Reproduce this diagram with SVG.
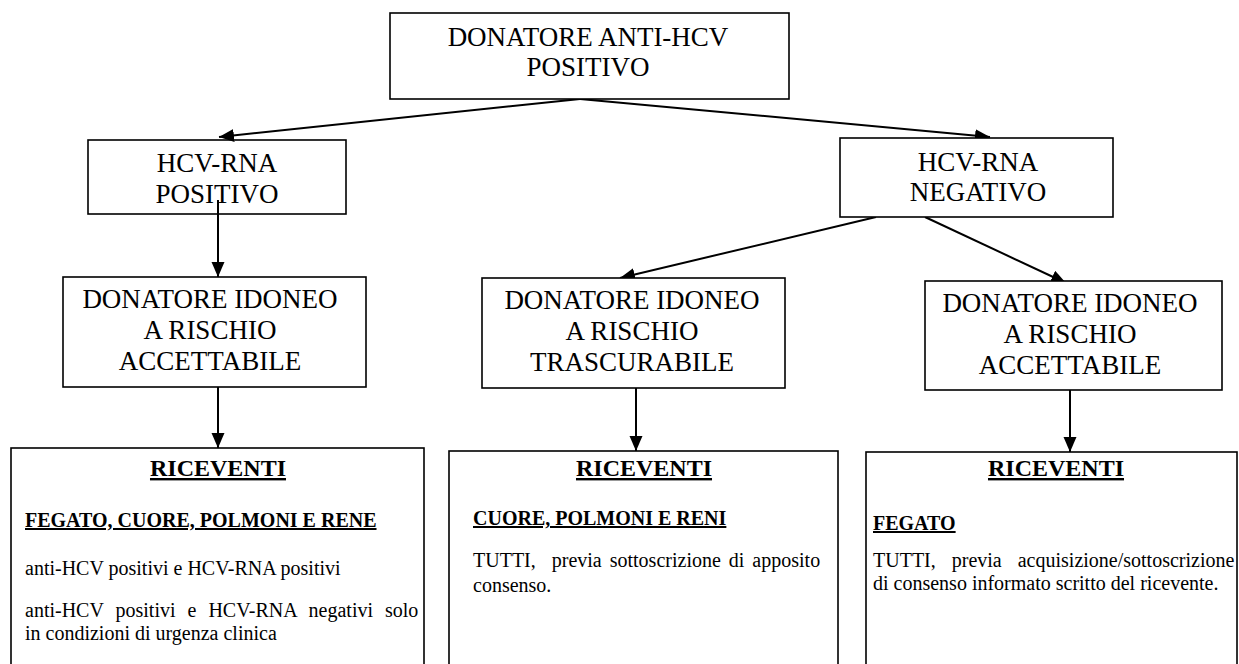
<svg xmlns="http://www.w3.org/2000/svg" width="1239" height="664" viewBox="0 0 1239 664">
<style>
.bg{fill:#ffffff}
.box{fill:#ffffff;stroke:#000;stroke-width:1.6}
.lbl{font-family:"Liberation Serif","Times New Roman",serif;font-size:27px;fill:#000;text-anchor:middle}
.hd{font-family:"Liberation Serif","Times New Roman",serif;font-size:24px;font-weight:bold;fill:#000;text-anchor:middle;text-decoration:underline}
.sub{font-family:"Liberation Serif","Times New Roman",serif;font-size:20px;font-weight:bold;fill:#000;text-decoration:underline}
.txt{font-family:"Liberation Serif","Times New Roman",serif;font-size:20px;fill:#000}
.conn{stroke:#000;stroke-width:2;fill:none;marker-end:url(#arr)}
</style>
<defs>
<marker id="arr" markerUnits="userSpaceOnUse" markerWidth="16" markerHeight="14" refX="15" refY="6.5" orient="auto">
<path d="M0,0 L15,6.5 L0,13 Z" fill="#000"/>
</marker>
</defs>
<rect class="bg" x="0" y="0" width="1239" height="664"/>

<g id="connectors">
<line class="conn" x1="580" y1="99" x2="219" y2="137"/>
<line class="conn" x1="580" y1="99" x2="990" y2="137"/>
<line class="conn" x1="218" y1="200" x2="218" y2="277"/>
<line class="conn" x1="876" y1="217" x2="620" y2="278"/>
<line class="conn" x1="925" y1="217" x2="1066" y2="283"/>
<line class="conn" x1="218" y1="387" x2="218" y2="448"/>
<line class="conn" x1="636" y1="388" x2="636" y2="451"/>
<line class="conn" x1="1070" y1="390" x2="1070" y2="452"/>
</g>

<g id="node-top">
<rect class="box" x="390" y="13" width="399" height="86"/>
<text class="lbl" x="588" y="46">DONATORE ANTI-HCV</text>
<text class="lbl" x="588" y="76">POSITIVO</text>
</g>

<g id="node-rna-pos">
<rect class="box" x="88" y="140" width="258" height="74" fill-opacity="0"/>
<text class="lbl" x="217" y="172">HCV-RNA</text>
<text class="lbl" x="217" y="203">POSITIVO</text>
</g>

<g id="node-rna-neg">
<rect class="box" x="840" y="138" width="273" height="79"/>
<text class="lbl" x="978" y="171">HCV-RNA</text>
<text class="lbl" x="978" y="201">NEGATIVO</text>
</g>

<g id="node-idoneo-1">
<rect class="box" x="63" y="277" width="303" height="110"/>
<text class="lbl" x="210" y="308">DONATORE IDONEO</text>
<text class="lbl" x="210" y="339">A RISCHIO</text>
<text class="lbl" x="210" y="370">ACCETTABILE</text>
</g>

<g id="node-idoneo-2">
<rect class="box" x="482" y="278" width="303" height="110"/>
<text class="lbl" x="632" y="309">DONATORE IDONEO</text>
<text class="lbl" x="632" y="340">A RISCHIO</text>
<text class="lbl" x="632" y="371">TRASCURABILE</text>
</g>

<g id="node-idoneo-3">
<rect class="box" x="925" y="281" width="297" height="109"/>
<text class="lbl" x="1070" y="312">DONATORE IDONEO</text>
<text class="lbl" x="1070" y="343">A RISCHIO</text>
<text class="lbl" x="1070" y="374">ACCETTABILE</text>
</g>

<g id="node-riceventi-1">
<rect class="box" x="11" y="448" width="413" height="240"/>
<text class="hd" x="218" y="476">RICEVENTI</text>
<text class="sub" x="25" y="527">FEGATO, CUORE, POLMONI E RENE</text>
<text class="txt" x="25" y="575">anti-HCV positivi e HCV-RNA positivi</text>
<text class="txt" x="25" y="617" style="word-spacing:7px">anti-HCV positivi e HCV-RNA negativi solo</text>
<text class="txt" x="25" y="640">in condizioni di urgenza clinica</text>
</g>

<g id="node-riceventi-2">
<rect class="box" x="449" y="451" width="389" height="240"/>
<text class="hd" x="644" y="476">RICEVENTI</text>
<text class="sub" x="473" y="525">CUORE, POLMONI E RENI</text>
<text class="txt" x="473" y="567" xml:space="preserve" style="word-spacing:3px">TUTTI,  previa sottoscrizione di apposito</text>
<text class="txt" x="473" y="592">consenso.</text>
</g>

<g id="node-riceventi-3">
<rect class="box" x="866" y="452" width="371" height="240"/>
<text class="hd" x="1056" y="476">RICEVENTI</text>
<text class="sub" x="873" y="530">FEGATO</text>
<text class="txt" x="873" y="567" style="word-spacing:11px">TUTTI, previa acquisizione/sottoscrizione</text>
<text class="txt" x="873" y="590">di consenso informato scritto del ricevente.</text>
</g>
</svg>
